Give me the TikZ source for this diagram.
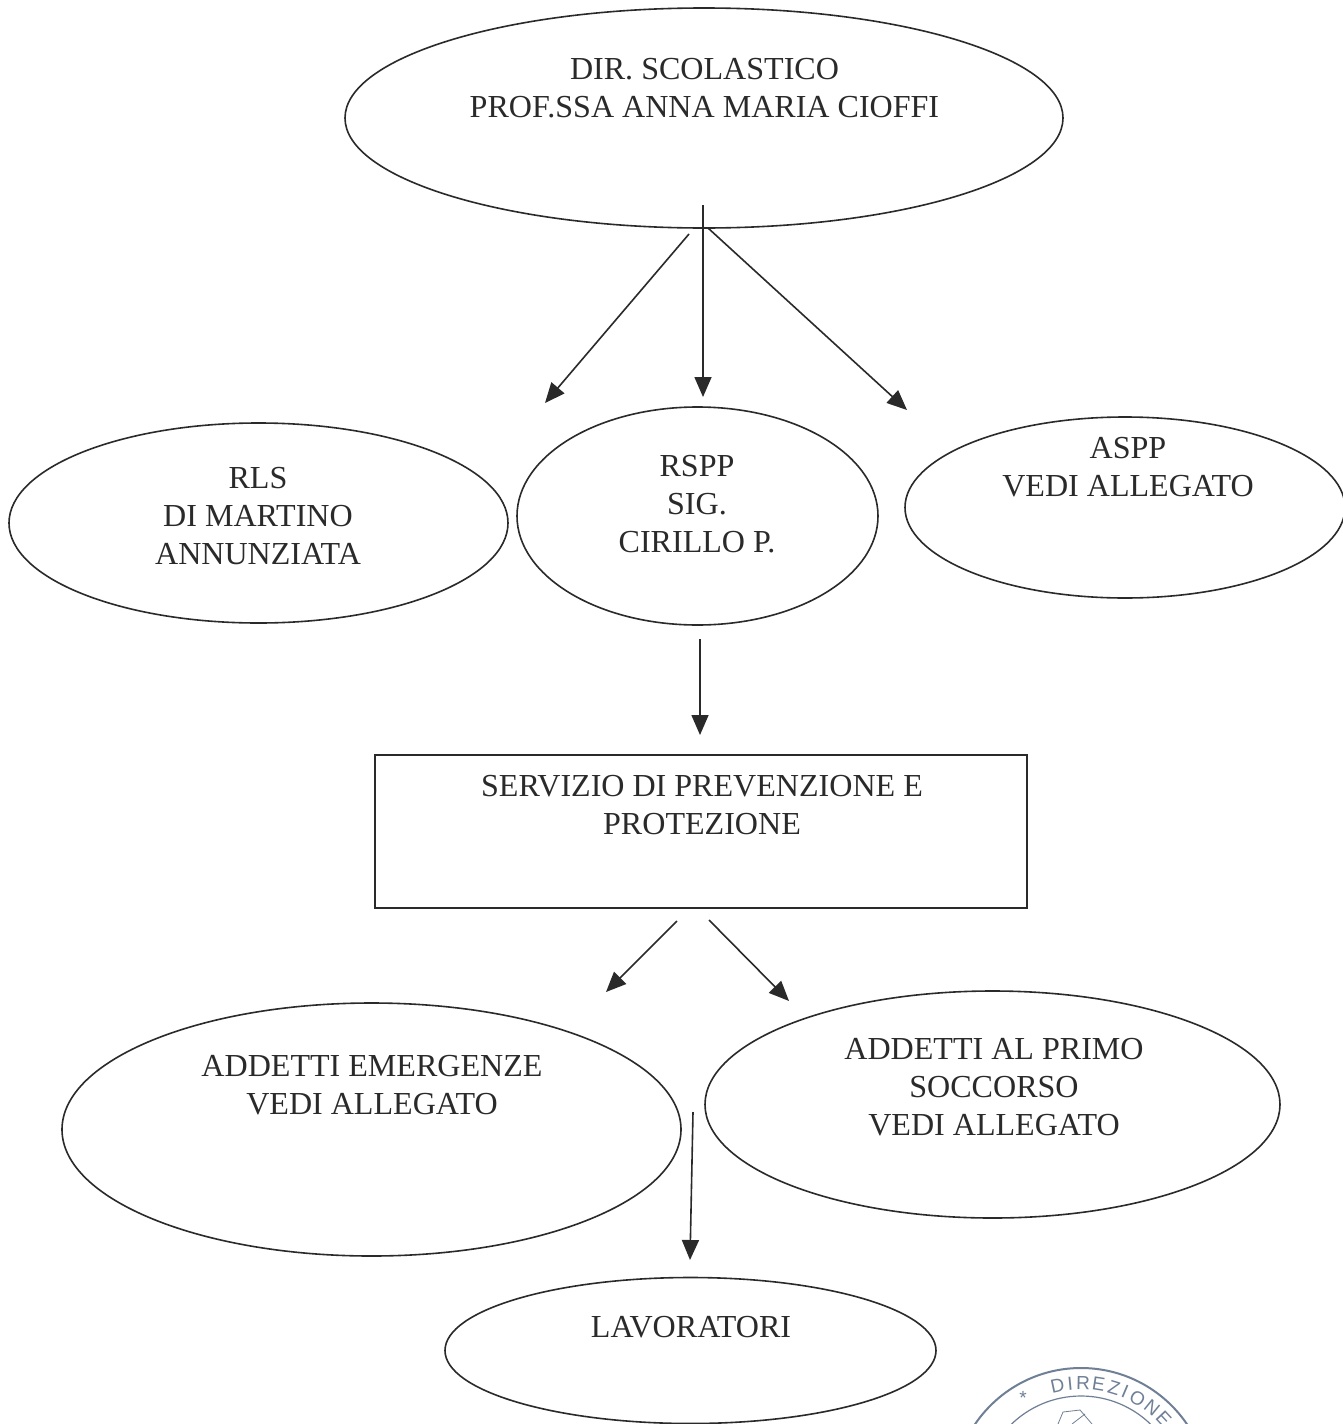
\documentclass[tikz,border=0pt]{standalone}
\usepackage{fontspec}
\setmainfont{Liberation Serif}
\newfontfamily\stampfont{Liberation Sans}
\usetikzlibrary{shapes.geometric,arrows.meta}
\definecolor{inkc}{HTML}{2A2A2A}
\definecolor{stampc}{HTML}{6F7F96}
\tikzset{
 x=0.5pt,y=-0.5pt,
 oval/.style={draw=inkc,line width=0.8pt,ellipse,inner sep=0pt,outer sep=0pt},
 box/.style={draw=inkc,line width=0.8pt,inner sep=0pt,outer sep=0pt},
 lab/.style={text=inkc,font=\fontsize{16.03}{19}\selectfont,align=center,inner sep=0pt},
 conn/.style={draw=inkc,line width=0.8pt,-{Triangle[length=10pt,width=8.5pt]}},
 stampline/.style={draw=stampc,line width=1pt},
 stampl/.style={text=stampc,font=\stampfont\fontsize{9.5}{10}\selectfont,inner sep=0pt}
}
\newcommand{\stampletter}[3]{\node[stampl,rotate=-#1] (#3) at ({1081+113*sin(#1)},{1496-113*cos(#1)}) {#2};}
\begin{document}
\begin{tikzpicture}
\useasboundingbox[fill=white] (0,0) rectangle (1343,1424);
\begin{scope}
\clip (0,0) rectangle (1343,1424);
\node[oval,minimum width=359pt,minimum height=110pt] (dir) at (704,118) {};
\node[oval,minimum width=249.5pt,minimum height=100pt] (rls) at (258.5,523) {};
\node[oval,minimum width=180.5pt,minimum height=109pt] (rspp) at (697.5,516) {};
\node[oval,minimum width=220pt,minimum height=90.5pt] (aspp) at (1125,507.5) {};
\node[box,minimum width=326pt,minimum height=76.5pt] (spp) at (701,831.5) {};
\node[oval,minimum width=309.5pt,minimum height=126.5pt] (emer) at (371.5,1129.5) {};
\node[oval,minimum width=287.5pt,minimum height=113.5pt] (primo) at (992.5,1104.5) {};
\node[oval,minimum width=245.5pt,minimum height=73pt] (lav) at (690.5,1350.5) {};
% stamp
\coordinate (sc) at (1081,1496);
\draw[stampline] (sc) circle[radius=64pt];
\draw[stampline,line width=0.6pt] (sc) circle[radius=50pt];
\stampletter{-12}{D}{s1}
\stampletter{-5.5}{I}{s2}
\stampletter{1}{R}{s3}
\stampletter{9}{E}{s4}
\stampletter{17}{Z}{s5}
\stampletter{23}{I}{s6}
\stampletter{30}{O}{s7}
\stampletter{39}{N}{s8}
\stampletter{47}{E}{s9}
\node[stampl] (sstar) at (1023,1398) {*};
\draw[stampc,line width=0.4pt] (1058,1424) -- (1063,1412) -- (1080,1410) -- (1092,1424) (1072,1424) -- (1085,1414);
\end{scope}
\node[lab] (tdir) at (704.5,88.5) {DIR. SCOLASTICO\\PROF.SSA ANNA MARIA CIOFFI};
\node[lab] (trls) at (258,516) {RLS\\DI MARTINO\\ANNUNZIATA};
\node[lab] (trspp) at (697,504) {RSPP\\SIG.\\CIRILLO P.};
\node[lab] (taspp) at (1128,467.5) {ASPP\\VEDI ALLEGATO};
\node[lab] (tspp) at (702,805) {SERVIZIO DI PREVENZIONE E\\PROTEZIONE};
\node[lab] (temer) at (372,1085) {ADDETTI EMERGENZE\\VEDI ALLEGATO};
\node[lab] (tprimo) at (994,1087) {ADDETTI AL PRIMO\\SOCCORSO\\VEDI ALLEGATO};
\node[lab] (tlav) at (691,1327) {LAVORATORI};
% free-ended connectors
\coordinate (a1s) at (689,234); \coordinate (a1e) at (545,403);
\coordinate (a2s) at (703,205); \coordinate (a2e) at (703,397);
\coordinate (a3s) at (708,228); \coordinate (a3e) at (907,410);
\coordinate (a4s) at (700,639); \coordinate (a4e) at (700,735);
\coordinate (a5s) at (677,921); \coordinate (a5e) at (606,992);
\coordinate (a6s) at (709,920); \coordinate (a6e) at (789,1001);
\coordinate (a7s) at (693,1112); \coordinate (a7e) at (690,1260);
\draw[conn] (a1s) -- (a1e);
\draw[conn] (a2s) -- (a2e);
\draw[conn] (a3s) -- (a3e);
\draw[conn] (a4s) -- (a4e);
\draw[conn] (a5s) -- (a5e);
\draw[conn] (a6s) -- (a6e);
\draw[conn] (a7s) -- (a7e);
\end{tikzpicture}
\end{document}
